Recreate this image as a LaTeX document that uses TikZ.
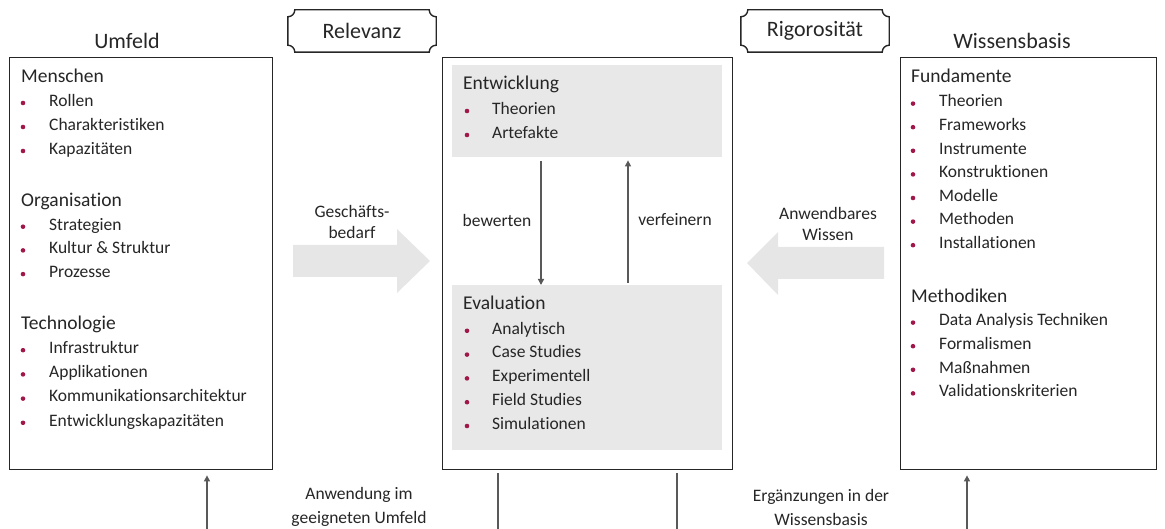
\documentclass[tikz,border=0pt]{standalone}
\usepackage{fontspec}
\setmainfont{Carlito}[Ligatures=NoCommon]
\usetikzlibrary{arrows.meta,calc}

\definecolor{txt}{HTML}{262626}
\definecolor{edge}{HTML}{262626}
\definecolor{conn}{HTML}{595959}
\definecolor{bul}{HTML}{A0174A}
\definecolor{panel}{HTML}{E8E8E8}
\definecolor{flow}{HTML}{E6E6E6}

\tikzset{
  frame/.style={draw=edge, line width=1.4pt, fill=white, anchor=north west, inner sep=0pt},
  panelbox/.style={fill=panel, anchor=north west, inner sep=0pt},
  title/.style={text=txt, font=\fontsize{22}{26}\selectfont, inner sep=0pt},
  head/.style={text=txt, font=\fontsize{19.5}{23}\selectfont, anchor=mid west, inner sep=0pt},
  itm/.style={text=txt, font=\fontsize{17.5}{20}\selectfont, anchor=mid west, inner sep=0pt},
  lbl/.style={text=txt, font=\fontsize{17.5}{21}\selectfont, align=center, inner sep=0pt},
  dot/.style={circle, fill=bul, minimum size=4.6pt, inner sep=0pt},
  plaquetxt/.style={text=txt, font=\fontsize{22}{26}\selectfont, minimum width=148pt, minimum height=42pt, inner sep=0pt},
  link/.style={draw=conn, line width=1.3pt},
  linkarrow/.style={link, -{Triangle[width=6pt,length=6pt]}},
}

% outline with concave (inset) corners around a named node
\newcommand{\plaqueoutline}[1]{%
  \draw[draw=edge, line width=1.4pt]
    ([xshift=7pt]#1.north west) -- ([xshift=-7pt]#1.north east)
    .. controls ([xshift=-7pt,yshift=-3.9pt]#1.north east) and ([xshift=-3.9pt,yshift=-7pt]#1.north east) .. ([yshift=-7pt]#1.north east)
    -- ([yshift=7pt]#1.south east)
    .. controls ([xshift=-3.9pt,yshift=7pt]#1.south east) and ([xshift=-7pt,yshift=3.9pt]#1.south east) .. ([xshift=-7pt]#1.south east)
    -- ([xshift=7pt]#1.south west)
    .. controls ([xshift=7pt,yshift=3.9pt]#1.south west) and ([xshift=3.9pt,yshift=7pt]#1.south west) .. ([yshift=7pt]#1.south west)
    -- ([yshift=-7pt]#1.north west)
    .. controls ([xshift=3.9pt,yshift=-7pt]#1.north west) and ([xshift=7pt,yshift=-3.9pt]#1.north west) .. cycle;}

\begin{document}
\begin{tikzpicture}[x=1pt,y=-1pt]
\useasboundingbox (0,0) rectangle (1165,529);

% ---------- block arrows between the columns ----------
\fill[flow] (293,245) -- (397,245) -- (397,229) -- (430,261) -- (397,293) -- (397,277) -- (293,277) -- cycle;
\fill[flow] (884,247) -- (778,247) -- (778,232) -- (747,263) -- (778,295) -- (778,279) -- (884,279) -- cycle;
\node[lbl] (bedarf) at (352,222) {Geschäfts-\\bedarf};
\node[lbl] (wissen) at (828,224) {Anwendbares\\Wissen};

% ---------- three columns ----------
\node[frame, minimum width=263pt, minimum height=412pt] (umfeld) at (9,57) {};
\node[frame, minimum width=290pt, minimum height=412pt] (mitte) at (442,57) {};
\node[frame, minimum width=256pt, minimum height=412pt] (basis) at (900,57) {};

\node[title] (tumfeld) at (127,41) {Umfeld};
\node[title] (tbasis) at (1012,41) {Wissensbasis};

% ---------- labels above the middle column ----------
\node[plaquetxt] (relevanz) at (362,31) {Relevanz};
\plaqueoutline{relevanz}
\node[plaquetxt] (rigor) at (815,31) {Rigorosität};
\plaqueoutline{rigor}

% ---------- environment ----------
\node[head] (menschen) at (21,80) {Menschen};
\foreach \t [count=\i] in {Rollen, Charakteristiken, Kapazitäten} {
  \node[dot] (um-a\i) at (23,{79+24*\i}) {};
  \node[itm] (um-ai\i) at (49,{80+24*\i}) {\t};
}
\node[head] (organisation) at (21,204) {Organisation};
\foreach \t [count=\i] in {Strategien, Kultur \& Struktur, Prozesse} {
  \node[dot] (um-b\i) at (23,{203+23.7*\i}) {};
  \node[itm] (um-bi\i) at (49,{204+23.7*\i}) {\t};
}
\node[head] (technologie) at (21,327) {Technologie};
\foreach \t [count=\i] in {Infrastruktur, Applikationen, Kommunikationsarchitektur, Entwicklungskapazitäten} {
  \node[dot] (um-c\i) at (23,{326+24.2*\i}) {};
  \node[itm] (um-ci\i) at (49,{327+24.2*\i}) {\t};
}

% ---------- design cycle ----------
\node[panelbox, minimum width=270pt, minimum height=92pt] (entw) at (452,65) {};
\node[panelbox, minimum width=270pt, minimum height=165pt] (evalb) at (452,285) {};

\node[head] (entwicklung) at (463,87) {Entwicklung};
\foreach \t [count=\i] in {Theorien, Artefakte} {
  \node[dot] (en-\i) at (467,{87+24*\i}) {};
  \node[itm] (en-i\i) at (492,{88+24*\i}) {\t};
}
\node[head] (evaluation) at (463,307) {Evaluation};
\foreach \t [count=\i] in {Analytisch, Case Studies, Experimentell, Field Studies, Simulationen} {
  \node[dot] (ev-\i) at (467,{307+23.8*\i}) {};
  \node[itm] (ev-i\i) at (492,{308+23.8*\i}) {\t};
}

\draw[linkarrow] ([xshift=89pt,yshift=-4pt]entw.south west) -- ([xshift=89pt]evalb.north west);
\draw[linkarrow] ([xshift=176pt,yshift=2pt]evalb.north west) -- ([xshift=176pt,yshift=-3pt]entw.south west);
\node[lbl] (bewerten) at (497,220) {bewerten};
\node[lbl] (verfeinern) at (675,220) {verfeinern};

% ---------- knowledge base ----------
\node[head] (fundamente) at (911,80) {Fundamente};
\foreach \t [count=\i] in {Theorien, Frameworks, Instrumente, Konstruktionen, Modelle, Methoden, Installationen} {
  \node[dot] (kb-a\i) at (913,{80+23.6*\i}) {};
  \node[itm] (kb-ai\i) at (939,{81+23.6*\i}) {\t};
}
\node[head] (methodiken) at (911,300) {Methodiken};
\foreach \t [count=\i] in {Data Analysis Techniken, Formalismen, Maßnahmen, Validationskriterien} {
  \node[dot] (kb-b\i) at (913,{299+23.6*\i}) {};
  \node[itm] (kb-bi\i) at (939,{300+23.6*\i}) {\t};
}

% ---------- connectors leaving the picture at the bottom ----------
\coordinate (c1) at (207,532);
\coordinate (c2) at (498,532);
\coordinate (c3) at (677,532);
\coordinate (c4) at (967,532);
\draw[linkarrow] (c1) -- ([yshift=-5pt]umfeld.south -| c1);
\draw[link] ([yshift=-3pt]mitte.south -| c2) -- (c2);
\draw[link] ([yshift=-3pt]mitte.south -| c3) -- (c3);
\draw[linkarrow] (c4) -- ([yshift=-5pt]basis.south -| c4);

\node[lbl, font=\fontsize{17.5}{24}\selectfont] (anwendung) at (359,507) {Anwendung im\\geeigneten Umfeld};
\node[lbl, font=\fontsize{17.5}{24}\selectfont] (ergaenzung) at (821,507) {Ergänzungen in der\\Wissensbasis};
\end{tikzpicture}
\end{document}
